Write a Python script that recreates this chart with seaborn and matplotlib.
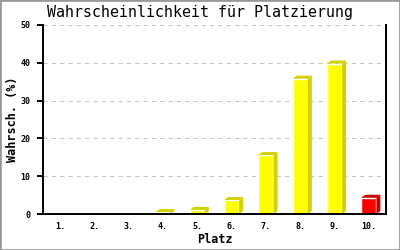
import matplotlib
matplotlib.use("Agg")
import matplotlib.pyplot as plt
import seaborn as sns
import numpy as np
from matplotlib.patches import Polygon, Rectangle

# ---- data ----
categories = ["1.", "2.", "3.", "4.", "5.", "6.", "7.", "8.", "9.", "10."]
values = [0.0, 0.0, 0.0, 0.5, 1.1, 3.7, 15.6, 35.8, 39.8, 4.3]
front_colors = ["#FFFF00"] * 9 + ["#FF0000"]
side_colors = ["#D4D000"] * 9 + ["#CC0000"]
title = "Wahrscheinlichkeit für Platzierung"
xlabel = "Platz"
ylabel = "Wahrsch. (%)"
yticks = [0, 10, 20, 30, 40, 50]

sns.set_style("white")
plt.rcParams["font.family"] = ["DejaVu Sans Mono", "DejaVu Sans"]
plt.rcParams["text.color"] = "black"
plt.rcParams["axes.labelcolor"] = "black"
plt.rcParams["xtick.color"] = "black"
plt.rcParams["ytick.color"] = "black"

fig = plt.figure(figsize=(4, 2.5), dpi=100)
fig.patch.set_facecolor("white")
ax = fig.add_axes([43 / 400, 36 / 250, (386 - 43) / 400, (214 - 25) / 250])

sns.barplot(x=categories, y=values, hue=categories, palette=front_colors,
            width=0.44, saturation=1, legend=False, ax=ax, zorder=3)

ax.set_xlim(-0.5, len(categories) - 0.5)
ax.set_ylim(0, 50)
ax.set_yticks(yticks)
ax.set_yticklabels([str(t) for t in yticks])

# grid
ax.set_axisbelow(True)
ax.yaxis.grid(True, linestyle=(0, (4, 4)), color="#C4C4C4", linewidth=0.75)
ax.xaxis.grid(False)

for s in ["left", "bottom", "right"]:
    ax.spines[s].set_visible(True)
    ax.spines[s].set_color("black")
    ax.spines[s].set_linewidth(1.4)
    ax.spines[s].set_zorder(5)
ax.spines["top"].set_visible(False)

ax.tick_params(axis="y", direction="out", length=4, width=1.4, color="black",
               labelcolor="black", labelsize=6, pad=5, left=True)
ax.tick_params(axis="x", length=0, labelsize=6, pad=6, labelcolor="black")
for lab in ax.get_xticklabels() + ax.get_yticklabels():
    lab.set_fontweight("bold")

ax.set_xlabel(xlabel, fontsize=8.5, fontweight="bold", labelpad=1, color="black")
ax.set_ylabel(ylabel, fontsize=8.5, fontweight="bold", labelpad=1, color="black")
fig.text(0.5, 1 - 13 / 250, title, ha="center", va="center", fontsize=10.8,
         color="black")

# 3D side and top faces
fig.canvas.draw()
dx, dy = 4, 3  # pixel depth
inv = ax.transData.inverted()
for patch, sc in zip(ax.patches, side_colors):
    h = patch.get_height()
    if h <= 0:
        continue
    x0 = patch.get_x()
    x1 = x0 + patch.get_width()
    p_br = ax.transData.transform((x1, 0))
    p_tl = ax.transData.transform((x0, h))
    p_tr = ax.transData.transform((x1, h))
    side = np.array([p_br, p_br + [dx, dy], p_tr + [dx, dy], p_tr])
    top = np.array([p_tl, p_tl + [dx, dy], p_tr + [dx, dy], p_tr])
    for poly in (side, top):
        data_poly = inv.transform(poly)
        ax.add_patch(Polygon(data_poly, closed=True, facecolor=sc,
                             edgecolor="none", zorder=3, clip_on=True))

fig.patches.append(Rectangle((0, 0), 1, 1, transform=fig.transFigure,
                             fill=False, edgecolor="#999999", linewidth=2))

fig.savefig("out.png", dpi=100)
